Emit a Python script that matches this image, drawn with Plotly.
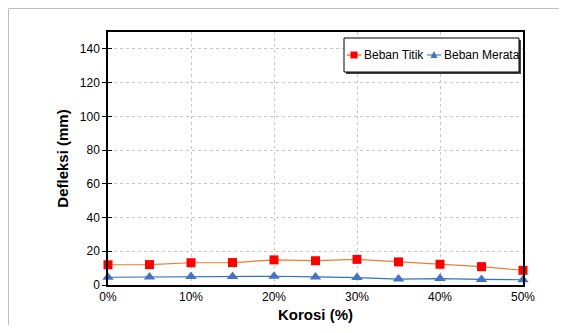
import plotly.graph_objects as go

korosi = [0, 5, 10, 15, 20, 25, 30, 35, 40, 45, 50]
beban_titik = [12.0, 12.1, 13.2, 13.3, 14.9, 14.4, 15.2, 13.7, 12.3, 10.9, 8.7]
beban_merata = [4.6, 4.7, 5.0, 5.0, 5.2, 4.8, 4.4, 3.5, 3.8, 3.3, 3.1]
x_ticks = [0, 10, 20, 30, 40, 50]
x_labels = ["0%", "10%", "20%", "30%", "40%", "50%"]
y_ticks = [0, 20, 40, 60, 80, 100, 120, 140]
series_names = ["Beban Titik", "Beban Merata"]

SW, SH = 567, 333  # screen size
OFF = 8  # page body margin offset
W, H = SW - 2 * OFF, SH - 2 * OFF  # figure size fits inside the page
L, R, T, B = 108, 523, 32, 285  # plot area in screen pixels


def px(x):
    return (x - L) / (R - L)


def py(y):
    return (B - y) / (B - T)


FONT = "Liberation Sans, Arial, sans-serif"

fig = go.Figure()
fig.add_trace(go.Scatter(
    x=korosi, y=beban_titik, mode="lines+markers", name=series_names[0],
    line=dict(color="#ED7D31", width=1.2),
    marker=dict(symbol="square", size=9, color="#FF0000"),
    cliponaxis=False, showlegend=False))
fig.add_trace(go.Scatter(
    x=korosi, y=beban_merata, mode="lines+markers", name=series_names[1],
    line=dict(color="#2E75B6", width=1.2),
    marker=dict(symbol="triangle-up", size=10, color="#4472C4"),
    cliponaxis=False, showlegend=False))

shapes = []
# outer chart border (grey): only top and left edges are visible
shapes.append(dict(type="line", xref="paper", yref="paper",
                   x0=px(OFF + 0.5), x1=px(OFF + W), y0=py(OFF + 0.5), y1=py(OFF + 0.5),
                   line=dict(color="#BFBFBF", width=1)))
shapes.append(dict(type="line", xref="paper", yref="paper",
                   x0=px(OFF + 0.5), x1=px(OFF + 0.5), y0=py(OFF + 0.5), y1=py(OFF + H),
                   line=dict(color="#BFBFBF", width=1)))
shapes.append(dict(type="rect", xref="paper", yref="paper",
                   x0=px(346), x1=px(521), y0=py(40), y1=py(74),
                   line=dict(width=0), fillcolor="#404040"))
shapes.append(dict(type="rect", xref="paper", yref="paper",
                   x0=px(344), x1=px(519), y0=py(38), y1=py(72),
                   line=dict(color="black", width=1), fillcolor="white"))
shapes.append(dict(type="line", xref="paper", yref="paper",
                   x0=px(347), x1=px(361), y0=py(55), y1=py(55),
                   line=dict(color="#ED7D31", width=1.5)))
shapes.append(dict(type="rect", xref="paper", yref="paper",
                   x0=px(350.5), x1=px(357.5), y0=py(51.5), y1=py(58.5),
                   line=dict(width=0), fillcolor="#FF0000"))
shapes.append(dict(type="line", xref="paper", yref="paper",
                   x0=px(427), x1=px(441), y0=py(55), y1=py(55),
                   line=dict(color="#5B9BD5", width=1.5)))
shapes.append(dict(type="path", xref="paper", yref="paper",
                   path="M {a},{b} L {c},{b} L {d},{e} Z".format(
                       a=px(430.5), b=py(58), c=px(437.5), d=px(434), e=py(51)),
                   line=dict(width=0), fillcolor="#4472C4"))

annotations = [
    dict(text=series_names[0], xref="paper", yref="paper", x=px(362), y=py(55),
         xanchor="left", yanchor="middle", showarrow=False,
         font=dict(family=FONT, size=12, color="black")),
    dict(text=series_names[1], xref="paper", yref="paper", x=px(442), y=py(55),
         xanchor="left", yanchor="middle", showarrow=False,
         font=dict(family=FONT, size=12, color="black")),
]

fig.update_layout(
    width=W, height=H,
    margin=dict(l=L - OFF, r=W - (R - OFF), t=T - OFF, b=H - (B - OFF), pad=0,
                autoexpand=False),
    paper_bgcolor="white", plot_bgcolor="white",
    font=dict(family=FONT, size=12, color="black"),
    shapes=shapes, annotations=annotations,
    showlegend=False,
    xaxis=dict(range=[0, 50], tickvals=x_ticks, ticktext=x_labels, automargin=False,
               showgrid=True, gridcolor="#C8C8C8", griddash="dot", gridwidth=1,
               showline=True, linecolor="black", linewidth=1.5, mirror=True,
               ticks="", zeroline=False, tickfont=dict(size=12),
               title=dict(text="<b>Korosi (%)</b>", font=dict(size=15), standoff=6)),
    yaxis=dict(range=[0, 150], tickvals=y_ticks, automargin=False,
               showgrid=True, gridcolor="#C8C8C8", griddash="dot", gridwidth=1,
               showline=True, linecolor="black", linewidth=1.5, mirror=True,
               ticks="outside", ticklen=4, tickcolor="black", tickwidth=1.2,
               zeroline=False, tickfont=dict(size=12),
               title=dict(text="<b>Defleksi (mm)</b>", font=dict(size=15), standoff=8)),
    yaxis2=dict(range=[0, 150], tickvals=y_ticks, overlaying="y", side="left",
                automargin=False,
                ticks="inside", ticklen=4, tickcolor="black", tickwidth=1.2,
                showticklabels=False, showgrid=False, zeroline=False, showline=False),
)
fig.add_trace(go.Scatter(x=[None], y=[None], yaxis="y2", showlegend=False, hoverinfo="skip"))

fig.write_html("out.html")
